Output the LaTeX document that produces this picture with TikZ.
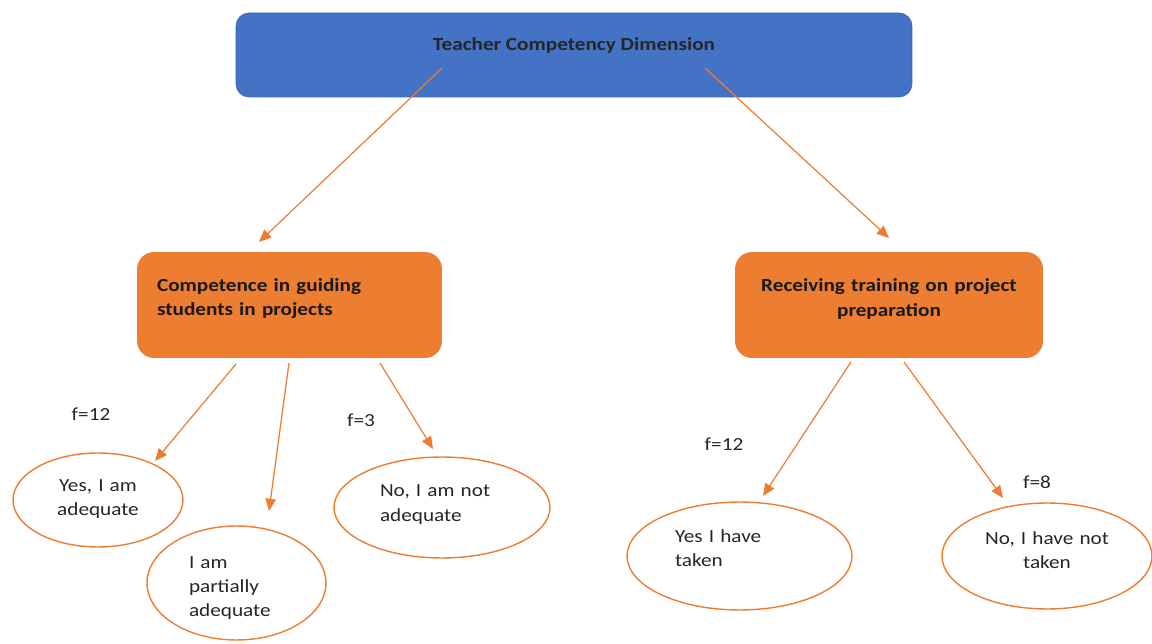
\documentclass[tikz,border=0pt]{standalone}
\usepackage{fontspec}
\setmainfont{Carlito}[FakeStretch=1.15]
\usepackage{tikz}
\usetikzlibrary{shapes.geometric,arrows.meta}
\definecolor{dimblue}{HTML}{4472C4}
\definecolor{dimblueline}{HTML}{3B63AE}
\definecolor{catorange}{HTML}{ED7D31}

\begin{document}
\begin{tikzpicture}[x=0.02cm, y=-0.02cm,
    font=\fontsize{10.5}{13.8}\selectfont,
    topbox/.style={draw=dimblueline, fill=dimblue, rounded corners=0.26cm, minimum width=13.52cm, minimum height=1.68cm, font=\fontsize{10.5}{13.8}\selectfont\bfseries, text=black!85, text height=7pt, text depth=11.6pt},
    catbox/.style={fill=catorange, rounded corners=0.34cm, minimum height=2.12cm, inner ysep=0pt, font=\fontsize{10.5}{13.8}\selectfont\bfseries, text=black!90, text height=7pt},
    answer/.style={ellipse, draw=catorange, line width=0.8pt, fill=white, inner sep=0pt, text=black!85, text height=7pt},
    arr/.style={draw=catorange, line width=0.7pt, -{Triangle[length=7pt,width=6pt]}},
    freq/.style={inner sep=0pt, text=black!85}]
    \useasboundingbox (0,0) rectangle (1152,644);

    % Dimension
    \node[topbox] (dim) at (574,55) {Teacher Competency Dimension};

    % Two questions
    \node[catbox, text width=5.3cm, inner xsep=0.4cm, align=left, text depth=22.9pt] (guide) at (289.5,305) {Competence in guiding\\students in projects};
    \node[catbox, text width=5.6cm, inner xsep=0.28cm, align=center, text depth=21.8pt] (train) at (889,305) {Receiving training on project\\preparation};

    % Answers
    \node[answer, minimum width=3.4cm, minimum height=1.88cm, text width=2.4cm, align=center, text depth=17.2pt] (adeq) at (98,500) {Yes, I am\\adequate};
    \node[answer, minimum width=3.58cm, minimum height=2.28cm, text width=1.9cm, align=left, text depth=24pt] (partial) at (236.5,583) {I am\\partially\\adequate};
    \node[answer, minimum width=4.32cm, minimum height=2.02cm, text width=2.48cm, align=left, text depth=19pt] (notadeq) at (442,507.5) {No, I am not\\adequate};
    \node[answer, minimum width=4.5cm, minimum height=2.16cm, text width=2.58cm, align=left, text depth=22.9pt] (taken) at (739.5,556) {Yes I have\\taken};
    \node[answer, minimum width=4.2cm, minimum height=2.12cm, text width=2.9cm, align=center, text depth=20.6pt] (nottaken) at (1047,556) {No, I have not\\taken};

    % Frequencies
    \node[freq] (f-adeq) at (91,414) {f=12};
    \node[freq] (f-notadeq) at (361,420) {f=3};
    \node[freq] (f-taken) at (724,444) {f=12};
    \node[freq] (f-nottaken) at (1037,482) {f=8};

    % Arrow ends
    \coordinate (dim-l) at (442,68);
    \coordinate (dim-r) at (705,68);
    \coordinate (guide-in) at (259,242);
    \coordinate (train-in) at (889,238);
    \coordinate (guide-a) at (236,364);
    \coordinate (guide-b) at (289,363);
    \coordinate (guide-c) at (380,363);
    \coordinate (train-a) at (851,362);
    \coordinate (train-b) at (904,362);
    \coordinate (adeq-in) at (155,461);
    \coordinate (partial-in) at (269,511);
    \coordinate (notadeq-in) at (433,449);
    \coordinate (taken-in) at (763,496);
    \coordinate (nottaken-in) at (1003,498);

    % Arrows
    \draw[arr] (dim-l) -- (guide-in);
    \draw[arr] (dim-r) -- (train-in);
    \draw[arr] (guide-a) -- (adeq-in);
    \draw[arr] (guide-b) -- (partial-in);
    \draw[arr] (guide-c) -- (notadeq-in);
    \draw[arr] (train-a) -- (taken-in);
    \draw[arr] (train-b) -- (nottaken-in);
\end{tikzpicture}
\end{document}
